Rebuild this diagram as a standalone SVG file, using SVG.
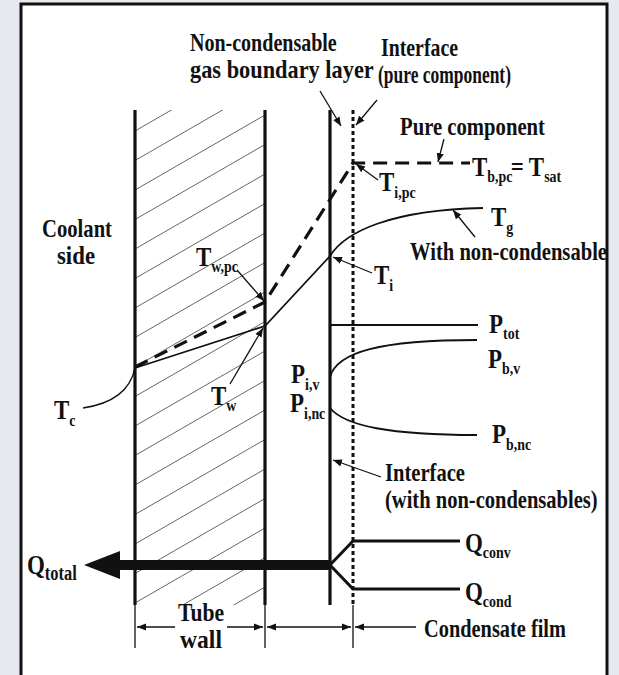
<svg xmlns="http://www.w3.org/2000/svg" width="619" height="675" viewBox="0 0 619 675">
<defs>
<style>
.t{font-family:"Liberation Serif","Times New Roman",serif;font-weight:bold;font-size:26px;fill:#111}
.T{font-family:"Liberation Serif","Times New Roman",serif;font-weight:bold;font-size:28px;fill:#111}
.s{font-size:17px}
.wall{stroke:#111;stroke-width:3.2;fill:none}
.thin{stroke:#111;stroke-width:1.3;fill:none}
.curve{stroke:#111;stroke-width:1.8;fill:none}
.hatch{stroke:#666;stroke-width:1;fill:none}
.dash{stroke:#111;stroke-width:3.2;fill:none;stroke-dasharray:14 8}
</style>
<marker id="ah" viewBox="0 0 10 10" refX="10" refY="5" markerWidth="9" markerHeight="9" markerUnits="userSpaceOnUse" orient="auto-start-reverse">
<path d="M0,1 L10,5 L0,9 Z" fill="#111"/>
</marker>
<clipPath id="wallclip"><rect x="135" y="110" width="130" height="495"/></clipPath>
<clipPath id="boxclip"><rect x="21" y="4" width="586" height="700"/></clipPath>
</defs>
<rect x="0" y="0" width="619" height="675" fill="#e6e9ef"/>
<rect x="21" y="4" width="586" height="700" fill="#fff" stroke="#111" stroke-width="3"/>

<g id="tube-wall">
<g clip-path="url(#wallclip)" class="hatch">
<path d="M135,131L265,56M135,160.5L265,85.5M135,190L265,115M135,219.5L265,144.5M135,249L265,174M135,278.5L265,203.5M135,308L265,233M135,337.5L265,262.5M135,367L265,292M135,396.5L265,321.5M135,426L265,351M135,455.5L265,380.5M135,485L265,410M135,514.5L265,439.5M135,544L265,469M135,573.5L265,498.5M135,603L265,528M135,632.5L265,557.5M135,662L265,587M135,691.5L265,616.5"/>
</g>
<line class="wall" x1="135" y1="110" x2="135" y2="605"/>
<line class="wall" x1="265" y1="110" x2="265" y2="605"/>
</g>
<g id="gas-interface"><line class="wall" x1="330" y1="110" x2="330" y2="605"/></g>
<g id="pure-interface"><line x1="353" y1="110" x2="353" y2="605" stroke="#111" stroke-width="3" stroke-dasharray="4 3"/></g>

<g id="connectors">
<path class="thin" stroke-width="1.5" d="M83,408 C110,404 130,392 135,368"/>
<path class="curve" d="M135,368 L265,326 L330,256 C345,232 390,210 483,208"/>
<path class="dash" d="M135,367 L265,302 L353,163 L470,163"/>
<line class="curve" x1="330" y1="325" x2="478" y2="325"/>
<path class="curve" d="M330,377 C337,352 380,340 477,340"/>
<path class="curve" d="M330,408 C345,426 390,435 477,435"/>
<line class="thin" x1="320" y1="91" x2="341" y2="126" marker-end="url(#ah)"/>
<line class="thin" x1="377" y1="100" x2="356" y2="125" marker-end="url(#ah)"/>
<line class="thin" x1="444" y1="139" x2="438" y2="162" marker-end="url(#ah)"/>
<line class="thin" x1="378" y1="180" x2="356" y2="164" marker-end="url(#ah)"/>
<line class="thin" x1="475" y1="237" x2="453" y2="210" marker-end="url(#ah)"/>
<line class="thin" x1="372" y1="273" x2="333" y2="257" marker-end="url(#ah)"/>
<line class="thin" x1="237" y1="270" x2="264" y2="301" marker-end="url(#ah)"/>
<line class="thin" x1="230" y1="384" x2="263" y2="328" marker-end="url(#ah)"/>
<line class="thin" x1="381" y1="477" x2="333" y2="460" marker-end="url(#ah)"/>
<line x1="115" y1="565" x2="331" y2="565" stroke="#111" stroke-width="10"/>
<path d="M84,565 L120,551 L120,579 Z" fill="#111"/>
<path d="M330,565 L353,541 L460,541 M330,565 L353,589 L460,589" stroke="#111" stroke-width="3" fill="none"/>
<path class="thin" d="M135,605V648M265,605V648M353,605V648"/>
<line class="thin" x1="175" y1="627" x2="137" y2="627" marker-end="url(#ah)"/>
<line class="thin" x1="227" y1="627" x2="263" y2="627" marker-end="url(#ah)"/>
<line class="thin" x1="267" y1="627" x2="351" y2="627" marker-start="url(#ah)" marker-end="url(#ah)"/>
<line class="thin" x1="416" y1="627" x2="355" y2="627" marker-end="url(#ah)"/>
</g>

<g id="labels">
<g transform="translate(190,51) scale(0.77,1)"><text class="t">Non-condensable</text></g>
<g transform="translate(190,77.5) scale(0.86,1)"><text class="t">gas boundary layer</text></g>
<text class="t"><tspan x="381" y="56" textLength="77" lengthAdjust="spacingAndGlyphs">Interface</tspan><tspan x="378" y="82.5" textLength="133" lengthAdjust="spacingAndGlyphs">(pure component)</tspan></text>
<text class="t" x="400" y="135" textLength="145" lengthAdjust="spacingAndGlyphs">Pure component</text>
<text class="t"><tspan x="42" y="237" textLength="70" lengthAdjust="spacingAndGlyphs">Coolant</tspan><tspan x="57" y="264" textLength="38" lengthAdjust="spacingAndGlyphs">side</tspan></text>
<g clip-path="url(#boxclip)"><text class="t" x="410" y="260" textLength="197" lengthAdjust="spacingAndGlyphs">With non-condensable</text></g>
<text class="t" x="385" y="481" textLength="80" lengthAdjust="spacingAndGlyphs">Interface</text>
<g transform="translate(385,507.5) scale(0.79,1)"><text class="t">(with non-condensables)</text></g>
<text class="t"><tspan x="178" y="621" textLength="46" lengthAdjust="spacingAndGlyphs">Tube</tspan><tspan x="180" y="647.5" textLength="42" lengthAdjust="spacingAndGlyphs">wall</tspan></text>
<text class="t" x="424" y="637" textLength="142" lengthAdjust="spacingAndGlyphs">Condensate film</text>

<g id="lbl-Tbpc" transform="translate(472,176) scale(0.82,1)"><text class="T">T<tspan class="s" dy="6">b,pc</tspan><tspan dx="-2" dy="-6">=</tspan><tspan dx="6">T</tspan><tspan class="s" dy="6">sat</tspan></text></g>
<g id="lbl-Tipc" transform="translate(379,191) scale(0.82,1)"><text class="T">T<tspan class="s" dy="7">i,pc</tspan></text></g>
<g id="lbl-Tg" transform="translate(491,226) scale(0.82,1)"><text class="T">T<tspan class="s" dy="7">g</tspan></text></g>
<g id="lbl-Ti" transform="translate(374,284) scale(0.82,1)"><text class="T">T<tspan class="s" dy="7">i</tspan></text></g>
<g id="lbl-Twpc" transform="translate(196,266) scale(0.82,1)"><text class="T">T<tspan class="s" dy="6">w,pc</tspan></text></g>
<g id="lbl-Tw" transform="translate(211,405) scale(0.82,1)"><text class="T">T<tspan class="s" dy="6">w</tspan></text></g>
<g id="lbl-Tc" transform="translate(54,419) scale(0.82,1)"><text class="T">T<tspan class="s" dy="7">c</tspan></text></g>
<g id="lbl-Ptot" transform="translate(489,333) scale(0.82,1)"><text class="T">P<tspan class="s" dy="6">tot</tspan></text></g>
<g id="lbl-Pbv" transform="translate(488,368) scale(0.82,1)"><text class="T">P<tspan class="s" dy="6">b,v</tspan></text></g>
<g id="lbl-Piv" transform="translate(291,383) scale(0.82,1)"><text class="T">P<tspan class="s" dy="7">i,v</tspan></text></g>
<g id="lbl-Pinc" transform="translate(290,412) scale(0.82,1)"><text class="T">P<tspan class="s" dy="7">i,nc</tspan></text></g>
<g id="lbl-Pbnc" transform="translate(492,443) scale(0.82,1)"><text class="T">P<tspan class="s" dy="7">b,nc</tspan></text></g>
<g id="lbl-Qconv" transform="translate(465,552) scale(0.82,1)"><text class="T">Q<tspan class="s" dy="6">conv</tspan></text></g>
<g id="lbl-Qcond" transform="translate(465,601) scale(0.82,1)"><text class="T">Q<tspan class="s" dy="6">cond</tspan></text></g>
<g id="lbl-Qtotal" transform="translate(27,574) scale(0.82,1)"><text class="T">Q<tspan font-size="20" dy="6">total</tspan></text></g>
</g>
</svg>
